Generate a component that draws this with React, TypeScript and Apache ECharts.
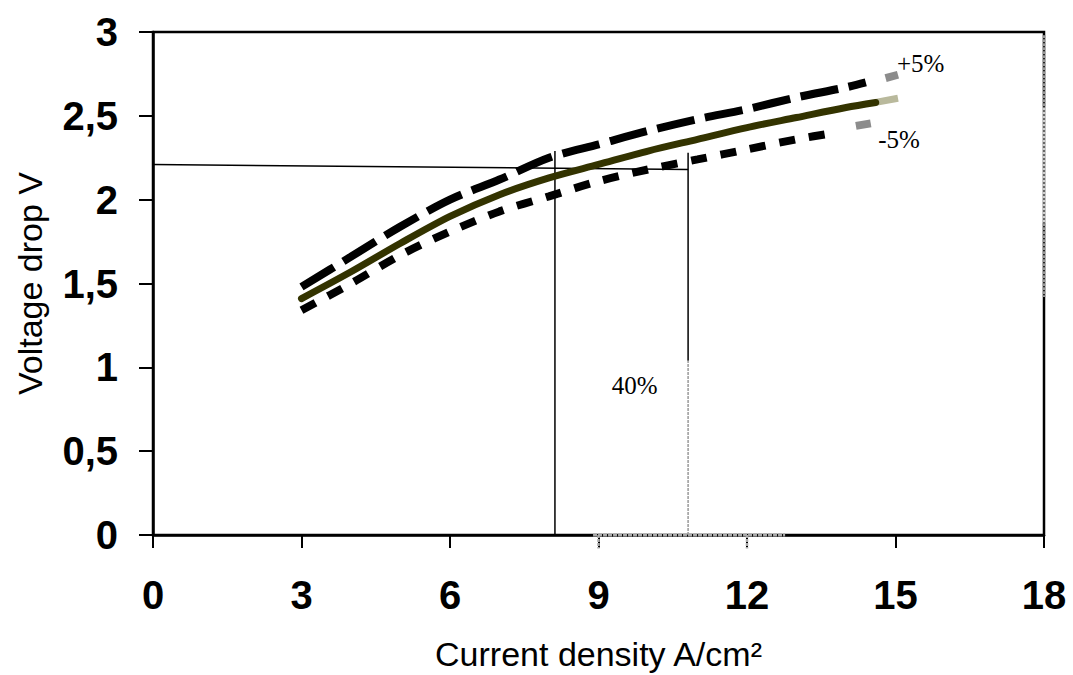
import React, { useEffect, useRef } from "react";
import * as echarts from "echarts";

// ---- data ----
const xTicks = [0, 3, 6, 9, 12, 15, 18];
const solidX = [3, 4, 5, 6, 7, 8, 9, 10, 11, 12, 13, 14, 14.6];
const solidY = [1.41, 1.57, 1.74, 1.9, 2.03, 2.13, 2.21, 2.29, 2.36, 2.43, 2.49, 2.55, 2.58];
const solidTailX = [14.6, 15.05];
const solidTailY = [2.58, 2.605];

const upperX = [3, 4, 5, 6, 7, 8, 9, 10, 11, 12, 13, 14, 14.4];
const upperY = [1.48, 1.66, 1.84, 2.0, 2.12, 2.25, 2.33, 2.41, 2.48, 2.54, 2.61, 2.67, 2.7];
const upperTailX = [14.8, 15.05];
const upperTailY = [2.725, 2.745];

const lowerX = [3, 4, 5, 6, 7, 8, 9, 10, 11, 12, 13, 13.8];
const lowerY = [1.34, 1.5, 1.67, 1.81, 1.93, 2.02, 2.11, 2.18, 2.24, 2.3, 2.36, 2.4];
const lowerTailX = [14.2, 14.5];
const lowerTailY = [2.44, 2.455];

// reference (construction) lines
const hLineX = [0, 10.81];
const hLineY = [2.21, 2.18];
const v1X = [8.12, 8.12];
const v1Y = [0, 2.29];
const v2X = [10.81, 10.81];
const v2Y = [1.04, 2.28];
const v2GreyY = [0, 1.04];

// scan artefacts (grey segments)
const axisGreyX = [8.89, 12.77];
const rightGreyDarkA = [2.98, 2.55];
const rightGreyLight = [2.55, 1.86];
const rightGreyDarkB = [1.86, 1.42];

// annotations
const annoText = ["+5%", "-5%", "40%"];
const annoX = [15.03, 14.65, 9.27];
const annoY = [2.81, 2.36, 0.89];

const zip = (xs: number[], ys: number[]) => xs.map((x, i) => [x, ys[i]]);

export default function App() {
  const ref = useRef<HTMLDivElement>(null);
  useEffect(() => {
    if (!ref.current) return;
    const chart = echarts.init(ref.current, null, { renderer: "svg" });

    const seg = (data: number[][], color: string, width: number, type: any = "solid", extra: any = {}) => ({
      type: "line",
      data,
      symbol: "none",
      clip: false,
      silent: true,
      lineStyle: { color, width, type, ...extra },
      z: 3,
    });

    chart.setOption({
      animation: false,
      backgroundColor: "#ffffff",
      grid: {
        left: 153,
        right: 29,
        top: 32,
        bottom: 140,
        outerBoundsMode: "none",
        containLabel: false,
        show: true,
        borderColor: "#000",
        borderWidth: 2.5,
      },
      xAxis: {
        type: "value",
        min: 0,
        max: 18,
        interval: 3,
        name: "Current density A/cm²",
        nameLocation: "middle",
        nameGap: 102,
        nameTextStyle: { fontFamily: "Liberation Sans", fontSize: 34, color: "#000", lineHeight: 34 },
        axisLine: { show: true, lineStyle: { color: "#000", width: 2.5 } },
        axisTick: { show: true, inside: false, length: 13, lineStyle: { color: "#000", width: 2 } },
        axisLabel: {
          margin: 40,
          fontFamily: "Liberation Sans",
          fontWeight: "bold",
          fontSize: 40,
          color: "#000",
          formatter: (v: number) => (xTicks.includes(v) ? String(v) : ""),
        },
        splitLine: { show: false },
      },
      yAxis: {
        type: "value",
        min: 0,
        max: 3,
        interval: 0.5,
        name: "Voltage drop V",
        nameLocation: "middle",
        nameGap: 106,
        nameRotate: 90,
        nameTextStyle: { fontFamily: "Liberation Sans", fontSize: 34, color: "#000" },
        axisLine: { show: true, lineStyle: { color: "#000", width: 2.5 } },
        axisTick: { show: true, inside: false, length: 14, lineStyle: { color: "#000", width: 2 } },
        axisLabel: {
          margin: 35,
          fontFamily: "Liberation Sans",
          fontWeight: "bold",
          fontSize: 40,
          color: "#000",
          formatter: (v: number) => String(v).replace(".", ","),
        },
        splitLine: { show: false },
      },
      series: [
        // construction lines
        seg(zip(hLineX, hLineY), "#000", 1.5),
        seg(zip(v1X, v1Y), "#000", 1.5),
        seg(zip(v2X, v2Y), "#000", 1.5),
        seg(zip(v2X, v2GreyY), "#9a9a9a", 1.5, [3, 1]),
        // scan artefacts
        seg(zip(axisGreyX, [0, 0]), "#a8a8a8", 3, [4, 1]),
        seg([[9, 0], [9, -0.08]], "#a8a8a8", 2.5, [3, 1]),
        seg([[12, 0], [12, -0.08]], "#a8a8a8", 2.5, [3, 1]),
        seg(zip([18, 18], rightGreyDarkA), "#999", 3, [3, 1]),
        seg(zip([18, 18], rightGreyLight), "#cfcfcf", 3, [3, 1]),
        seg(zip([18, 18], rightGreyDarkB), "#999", 3, [3, 1]),
        // +5%
        {
          ...seg(zip(upperX, upperY), "#000", 8, [38, 11]),
          smooth: 0.3,
          z: 4,
        },
        seg(zip(upperTailX, upperTailY), "#8c8c8c", 8),
        // -5%
        {
          ...seg(zip(lowerX, lowerY), "#000", 8, [16, 14]),
          smooth: 0.3,
          z: 4,
        },
        seg(zip(lowerTailX, lowerTailY), "#8c8c8c", 8),
        // nominal
        {
          ...seg(zip(solidX, solidY), "#333300", 7, "solid", { cap: "round" }),
          smooth: 0.3,
          z: 5,
        },
        seg(zip(solidTailX, solidTailY), "#b9b99c", 7),
        // annotations
        {
          type: "scatter",
          data: annoText.map((t, i) => ({ value: [annoX[i], annoY[i]], name: t })),
          symbolSize: 0,
          itemStyle: { color: "#ffffff", opacity: 1 },
          silent: true,
          clip: false,
          label: {
            show: true,
            position: [0, 0],
            align: "left",
            verticalAlign: "middle",
            formatter: (p: any) => p.name,
            fontFamily: "Liberation Serif",
            fontSize: 25,
            color: "#000000",
            opacity: 1,
          },
          z: 6,
        },
      ],
    });
    return () => chart.dispose();
  }, []);

  return (
    <div
      ref={ref}
      style={{
        position: "fixed",
        left: 0,
        top: 0,
        width: 1073,
        height: 675,
        overflow: "hidden",
        background: "#fff",
      }}
    />
  );
}
